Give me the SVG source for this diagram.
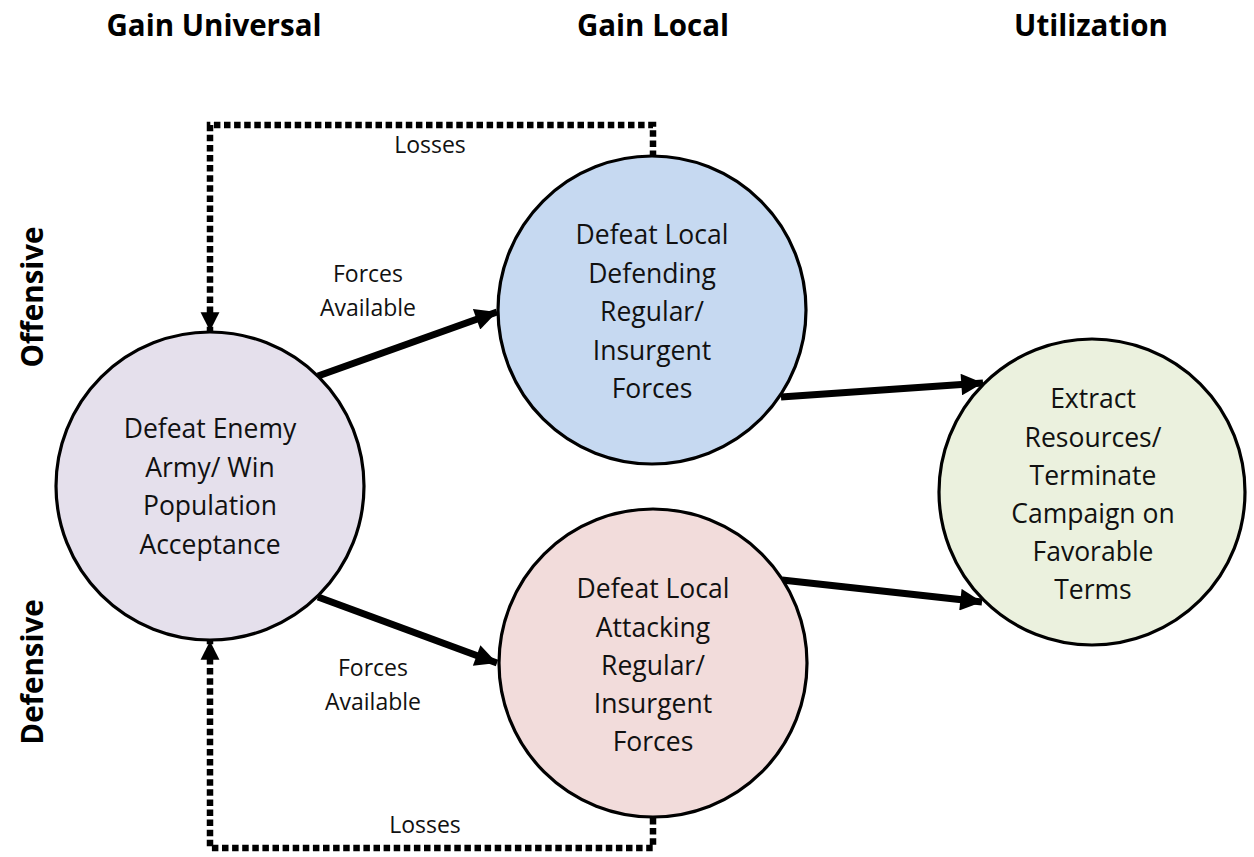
<svg xmlns="http://www.w3.org/2000/svg" width="1254" height="857" viewBox="0 0 1254 857">
  <style>
    .hdr { font-family: "Open Sans", "Noto Sans", sans-serif; font-weight: 700; font-size: 29.5px; fill: #000; text-anchor: middle; }
    .node-text { font-family: "Open Sans", "Noto Sans", sans-serif; font-size: 26.5px; fill: #111; text-anchor: middle; }
    .lbl { font-family: "Open Sans", "Noto Sans", sans-serif; font-size: 23px; fill: #111; text-anchor: middle; }
    .node { stroke: #000; stroke-width: 3.2; }
    .flow { stroke: #000; stroke-width: 7; fill: none; }
    .loss { stroke: #000; stroke-width: 6.5; fill: none; stroke-dasharray: 6.5 3.6; }
  </style>
  <defs>
    <marker id="arrow" viewBox="0 0 10 10" refX="10" refY="5" markerWidth="3.5" markerHeight="3.1" markerUnits="strokeWidth" orient="auto">
      <path d="M0,0 L10,5 L0,10 Z" fill="#000"/>
    </marker>
    <marker id="arrowDot" viewBox="0 0 10 10" refX="10" refY="5" markerWidth="2.9" markerHeight="3.2" markerUnits="strokeWidth" orient="auto">
      <path d="M0,0 L10,5 L0,10 Z" fill="#000"/>
    </marker>
  </defs>

  <rect width="1254" height="857" fill="#fff"/>

  <!-- column and row headers -->
  <g id="headers">
    <text class="hdr" x="214" y="36">Gain Universal</text>
    <text class="hdr" x="653" y="36">Gain Local</text>
    <text class="hdr" x="1091" y="36">Utilization</text>
    <text class="hdr" transform="translate(43,297) rotate(-90)">Offensive</text>
    <text class="hdr" transform="translate(43,672) rotate(-90)">Defensive</text>
  </g>

  <!-- connectors -->
  <g id="connectors">
    <line class="flow" x1="318" y1="376" x2="497" y2="312" marker-end="url(#arrow)"/>
    <line class="flow" x1="318" y1="597" x2="497" y2="663" marker-end="url(#arrow)"/>
    <line class="flow" x1="781" y1="397" x2="983" y2="383" marker-end="url(#arrow)"/>
    <line class="flow" x1="782" y1="580" x2="982" y2="602" marker-end="url(#arrow)"/>
    <path class="loss" d="M653,157 V125 H210 V331" marker-end="url(#arrowDot)"/>
    <path class="loss" d="M653,818 V848 H210 V641" marker-end="url(#arrowDot)"/>
    <text class="lbl" x="430" y="153">Losses</text>
    <text class="lbl" x="368" y="282">Forces</text>
    <text class="lbl" x="368" y="316">Available</text>
    <text class="lbl" x="373" y="676">Forces</text>
    <text class="lbl" x="373" y="710">Available</text>
    <text class="lbl" x="425" y="833">Losses</text>
  </g>

  <!-- nodes -->
  <g id="node-universal">
    <circle class="node" cx="210" cy="486" r="154" fill="#e5e0ec"/>
    <text class="node-text" x="210" y="438">Defeat Enemy</text>
    <text class="node-text" x="210" y="477">Army/ Win</text>
    <text class="node-text" x="210" y="515">Population</text>
    <text class="node-text" x="210" y="554">Acceptance</text>
  </g>

  <g id="node-local-offense">
    <circle class="node" cx="652" cy="310" r="154" fill="#c6d9f1"/>
    <text class="node-text" x="652" y="244">Defeat Local</text>
    <text class="node-text" x="652" y="283">Defending</text>
    <text class="node-text" x="652" y="321">Regular/</text>
    <text class="node-text" x="652" y="360">Insurgent</text>
    <text class="node-text" x="652" y="398">Forces</text>
  </g>

  <g id="node-local-defense">
    <circle class="node" cx="653" cy="663" r="154" fill="#f2dcdb"/>
    <text class="node-text" x="653" y="598">Defeat Local</text>
    <text class="node-text" x="653" y="637">Attacking</text>
    <text class="node-text" x="653" y="675">Regular/</text>
    <text class="node-text" x="653" y="713">Insurgent</text>
    <text class="node-text" x="653" y="751">Forces</text>
  </g>

  <g id="node-utilization">
    <circle class="node" cx="1092" cy="492" r="153" fill="#ebf1de"/>
    <text class="node-text" x="1093" y="408">Extract</text>
    <text class="node-text" x="1093" y="447">Resources/</text>
    <text class="node-text" x="1093" y="485">Terminate</text>
    <text class="node-text" x="1093" y="523">Campaign on</text>
    <text class="node-text" x="1093" y="561">Favorable</text>
    <text class="node-text" x="1093" y="599">Terms</text>
  </g>
</svg>
